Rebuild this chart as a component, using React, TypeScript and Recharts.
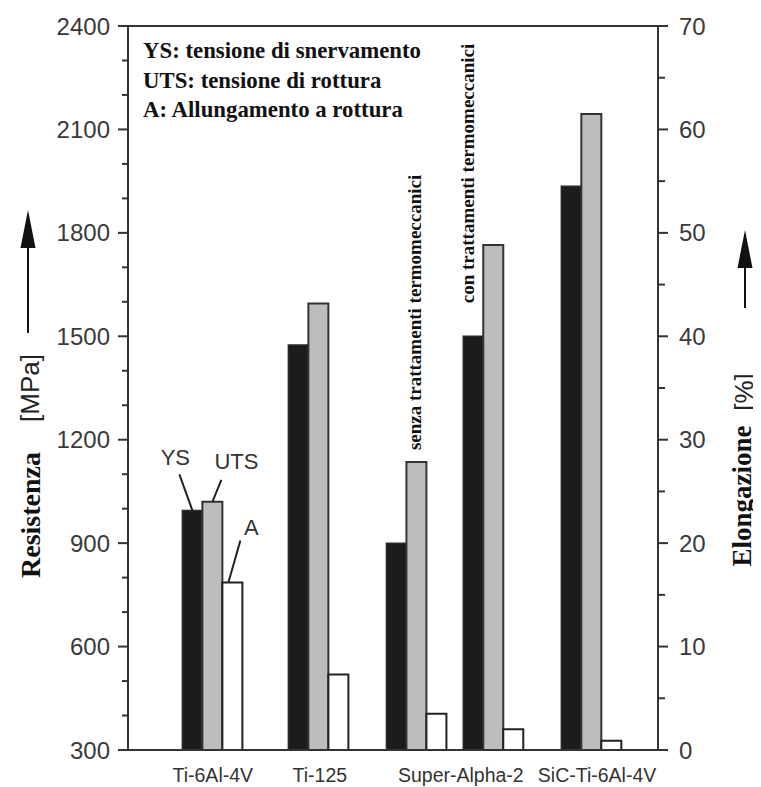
import React from 'react';
import { ComposedChart, Bar, XAxis, YAxis, ReferenceLine, LabelList, Customized } from 'recharts';

// ---- data ----
const materials = ['Ti-6Al-4V', 'Ti-125', 'Super-Alpha-2 (senza)', 'Super-Alpha-2 (con)', 'SiC-Ti-6Al-4V'];
const groupPos = [1.6, 3.6, 5.45, 6.9, 8.75];
const ysValues = [995, 1475, 900, 1500, 1935];
const utsValues = [1020, 1595, 1135, 1765, 2145];
const aValues = [16.2, 7.3, 3.5, 2.0, 0.9];

const xTickLabels = ['Ti-6Al-4V', 'Ti-125', 'Super-Alpha-2', 'SiC-Ti-6Al-4V'];
const xTickPos = [1.6, 3.62, 6.28, 8.85];
const leftTicks = [300, 400, 500, 600, 700, 800, 900, 1000, 1100, 1200, 1300, 1400, 1500, 1600, 1700, 1800, 1900, 2000, 2100, 2200, 2300, 2400];
const rightTicks = [0, 5, 10, 15, 20, 25, 30, 35, 40, 45, 50, 55, 60, 65, 70];
const legendLines = ['YS: tensione di snervamento', 'UTS: tensione di rottura', 'A: Allungamento a rottura'];
const senzaText = 'senza trattamenti termomeccanici';
const conText = 'con trattamenti termomeccanici';

const data = materials.map((m, i) => ({
  name: m,
  pos: groupPos[i],
  ys: ysValues[i],
  uts: utsValues[i],
  a: aValues[i],
}));

const SANS = 'Liberation Sans, Arial, Helvetica, sans-serif';
const SERIF = 'Liberation Serif, Times New Roman, serif';
const AXIS = '#333';

const LeftTick = (props: any) => {
  const { x, y, payload } = props;
  const v = payload.value;
  const major = v % 300 === 0;
  return (
    <g>
      <line x1={x - (major ? 10 : 6)} x2={x} y1={y} y2={y} stroke={AXIS} strokeWidth={2} />
      {major && (
        <text x={x - 18} y={y} dy="0.36em" textAnchor="end" fontFamily={SANS} fontSize={24} fill="#3a3a3a">
          {v}
        </text>
      )}
    </g>
  );
};

const RightTick = (props: any) => {
  const { x, y, payload } = props;
  const v = payload.value;
  const major = v % 10 === 0;
  return (
    <g>
      <line x1={x} x2={x + (major ? 10 : 7)} y1={y} y2={y} stroke={AXIS} strokeWidth={2} />
      {major && (
        <text x={x + 21} y={y} dy="0.36em" textAnchor="start" fontFamily={SANS} fontSize={24} fill="#3a3a3a">
          {v}
        </text>
      )}
    </g>
  );
};

const BottomTick = (props: any) => {
  const { x, y, index } = props;
  return (
    <text x={x} y={y + 32} textAnchor="middle" fontFamily={SANS} fontSize={19.5} fill="#333">
      {xTickLabels[index]}
    </text>
  );
};

const box = (p: any) => {
  const vb = p.viewBox || {};
  return {
    x: Number(p.x ?? vb.x),
    y: Number(p.y ?? vb.y),
    width: Number(p.width ?? vb.width),
  };
};

const YsNote = (p: any) => {
  const { x, y, width } = box(p);
  if (p.index === 0) {
    const cx = x + width / 2;
    return (
      <g>
        <line x1={cx} y1={y} x2={cx - 13} y2={y - 36} stroke="#222" strokeWidth={2} />
        <text x={cx - 17} y={y - 45} textAnchor="middle" fontFamily={SANS} fontSize={22} fill="#333">YS</text>
      </g>
    );
  }
  if (p.index === 3) {
    const tx = x + 11;
    const ty = y - 33;
    return (
      <text transform={`translate(${tx},${ty}) rotate(-90)`} textAnchor="start" fontFamily={SERIF} fontWeight="bold" fontSize={19} fill="#111">
        {conText}
      </text>
    );
  }
  return null;
};

const UtsNote = (p: any) => {
  const { x, y, width } = box(p);
  if (p.index === 0) {
    const cx = x + width / 2;
    return (
      <g>
        <line x1={cx} y1={y} x2={cx + 9} y2={y - 22} stroke="#222" strokeWidth={2} />
        <text x={cx + 24} y={y - 33} textAnchor="middle" fontFamily={SANS} fontSize={22} fill="#333">UTS</text>
      </g>
    );
  }
  if (p.index === 2) {
    const tx = x + 15;
    const ty = y - 12;
    return (
      <text transform={`translate(${tx},${ty}) rotate(-90)`} textAnchor="start" fontFamily={SERIF} fontWeight="bold" fontSize={19} fill="#111">
        {senzaText}
      </text>
    );
  }
  return null;
};

const ANote = (p: any) => {
  const { x, y, width } = box(p);
  if (p.index === 0) {
    const cx = x + width / 2;
    return (
      <g>
        <line x1={cx - 4} y1={y} x2={cx + 8} y2={y - 42} stroke="#222" strokeWidth={2} />
        <text x={cx + 19} y={y - 47} textAnchor="middle" fontFamily={SANS} fontSize={22} fill="#333">A</text>
      </g>
    );
  }
  return null;
};

const Decorations = () => (
  <g>
    {legendLines.map((t, i) => (
      <text key={t} x={135} y={50 + i * 29.5} fontFamily={SERIF} fontWeight="bold" fontSize={22.8} fill="#111">
        {t}
      </text>
    ))}
    {/* left title */}
    <path d="M20,202 L12.5,240 L27.5,240 Z" fill="#111" />
    <line x1={20} y1={238} x2={20} y2={325} stroke="#111" strokeWidth={2} />
    <text transform="translate(31,380) rotate(-90)" textAnchor="middle" fontFamily={SANS} fontSize={26} fill="#222">[MPa]</text>
    <text transform="translate(32,507) rotate(-90)" textAnchor="middle" fontFamily={SERIF} fontWeight="bold" fontSize={28} fill="#111">Resistenza</text>
    {/* right title */}
    <path d="M737,222 L729.5,260 L744.5,260 Z" fill="#111" />
    <line x1={737} y1={258} x2={737} y2={300} stroke="#111" strokeWidth={2} />
    <text transform="translate(745,384) rotate(-90)" textAnchor="middle" fontFamily={SANS} fontSize={26} fill="#222">[%]</text>
    <text transform="translate(743,488) rotate(-90)" textAnchor="middle" fontFamily={SERIF} fontWeight="bold" fontSize={27} fill="#111">Elongazione</text>
  </g>
);

export default function App() {
  return (
    <div style={{ width: 753, height: 779, background: '#fff' }}>
      <ComposedChart
        width={753}
        height={779}
        data={data}
        margin={{ top: 18, right: 43, bottom: 0, left: 40 }}
        barGap={0}
        style={{ background: '#fff', overflow: 'visible' }}
      >
        <XAxis
          type="number"
          dataKey="pos"
          domain={[0, 10]}
          ticks={xTickPos}
          interval={0}
          tickLine={false}
          tickSize={0}
          tickMargin={0}
          height={37}
          axisLine={{ stroke: AXIS, strokeWidth: 2 }}
          tick={<BottomTick />}
          allowDataOverflow
        />
        <YAxis
          yAxisId="left"
          orientation="left"
          domain={[300, 2400]}
          ticks={leftTicks}
          interval={0}
          width={80}
          tickLine={false}
          tickSize={0}
          tickMargin={0}
          axisLine={{ stroke: AXIS, strokeWidth: 2 }}
          tick={<LeftTick />}
          allowDataOverflow
        />
        <YAxis
          yAxisId="right"
          orientation="right"
          domain={[0, 70]}
          ticks={rightTicks}
          interval={0}
          width={60}
          tickLine={false}
          tickSize={0}
          tickMargin={0}
          axisLine={{ stroke: AXIS, strokeWidth: 2 }}
          tick={<RightTick />}
          allowDataOverflow
        />
        <ReferenceLine yAxisId="left" y={2400} stroke={AXIS} strokeWidth={2} />
        <Bar dataKey="ys" yAxisId="left" barSize={20} fill="#1c1c1c" stroke="#2a2a2a" strokeWidth={1.5} isAnimationActive={false}>
          <LabelList dataKey="ys" content={<YsNote />} />
        </Bar>
        <Bar dataKey="uts" yAxisId="left" barSize={20} fill="#bdbdbd" stroke="#333" strokeWidth={2} isAnimationActive={false}>
          <LabelList dataKey="uts" content={<UtsNote />} />
        </Bar>
        <Bar dataKey="a" yAxisId="right" barSize={20} fill="#ffffff" stroke="#222" strokeWidth={2} isAnimationActive={false}>
          <LabelList dataKey="a" content={<ANote />} />
        </Bar>
        <Customized component={<Decorations />} />
      </ComposedChart>
    </div>
  );
}
